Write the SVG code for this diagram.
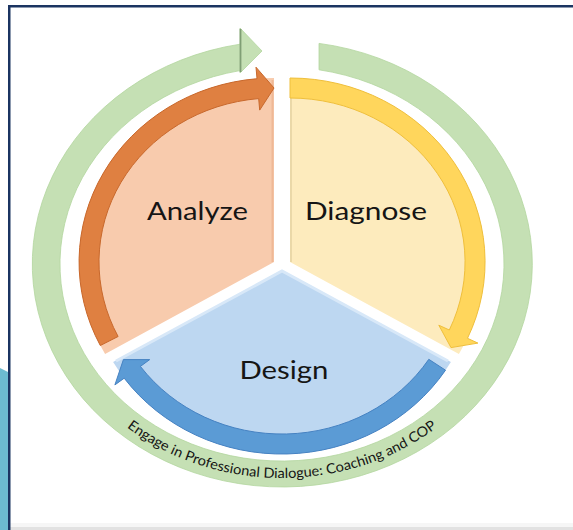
<svg xmlns="http://www.w3.org/2000/svg" width="573" height="530" viewBox="0 0 573 530">
<style>
.lbl{font-family:Lato,"Liberation Sans",sans-serif;font-size:25.5px;fill:#151515}
.ring{font-family:Lato,"Liberation Sans",sans-serif;font-size:14px;fill:#151515}
</style>
<defs>
<path id="txtArc" d="M42,264 A240,214 0 0 0 522,264"/>
</defs>
<rect x="0" y="0" width="573" height="530" fill="#ffffff"/>
<g id="frame">
<path d="M0,368 L8,372 L8,530 L0,530 Z" fill="#6cbbd0"/>
<rect x="10" y="523" width="563" height="4" fill="#f6f6f6"/>
<rect x="10" y="527" width="563" height="3" fill="#e2e2e2"/>
<rect x="8" y="5" width="565" height="2.5" fill="#1b3461"/>
<rect x="8" y="5" width="2.5" height="525" fill="#1b3461"/>
</g>
<g id="cycle">
<path d="M319,43.4 A250,223 0 1 1 240,44.2 L240,28 L262,51 L240,73 L240,70.6 A222,197 0 1 0 319,69.8 Z" fill="#c5e0b4" stroke="#b3d69e" stroke-width="0.8"/>
<line x1="240.5" y1="29" x2="240.5" y2="72" stroke="#6f8f66" stroke-width="1.8" opacity="0.8"/>
<text class="ring"><textPath href="#txtArc" startOffset="50%" text-anchor="middle" textLength="332" lengthAdjust="spacingAndGlyphs">Engage in Professional Dialogue: Coaching and COP</textPath></text>
</g>
<g id="analyze">
<path d="M274,262 L105.1,354 A195,184 0 0 1 274,78 Z" fill="#f8cbad"/>
<line x1="272.5" y1="80" x2="272.5" y2="262" stroke="#efb896" stroke-width="2"/>
<text class="lbl" x="197.5" y="220" text-anchor="middle" textLength="101" lengthAdjust="spacingAndGlyphs">Analyze</text>
</g>
<g id="diagnose">
<path d="M290,262 L290,78 A195,184 0 0 1 458.9,354 Z" fill="#fdebbd"/>
<line x1="291" y1="98" x2="291" y2="262" stroke="#ead8a8" stroke-width="2"/>
<text class="lbl" x="366" y="220" text-anchor="middle" textLength="122" lengthAdjust="spacingAndGlyphs">Diagnose</text>
</g>
<g id="design">
<path d="M282,270 L450.9,362 A195,184 0 0 1 113.1,362 Z" fill="#bdd7f1"/>
<path d="M116,361 L282,271 L448,361" fill="none" stroke="#d8e8f8" stroke-width="3"/>
<text class="lbl" x="284" y="379" text-anchor="middle" textLength="89" lengthAdjust="spacingAndGlyphs">Design</text>
</g>
<g id="connectors">
<path d="M100.3,345.5 A195,184 0 0 1 257,78.7 L256,67.2 L274,88 L259.7,110.1 L258.7,98.6 A175,164 0 0 0 118.1,336.5 Z" fill="#df8041" stroke="#c8682c" stroke-width="1"/>
<path d="M290,78 A195,184 0 0 1 467.5,338.3 L477.9,343.1 L451,347.6 L438.8,325.2 L449.3,330 A175,164 0 0 0 290,98 Z" fill="#ffd65c" stroke="#efbf3c" stroke-width="1"/>
<path d="M445.5,370.2 A195,184 0 0 1 124.2,378.2 L114.9,384.9 L123.4,359.6 L149.7,359.6 L140.4,366.4 A175,164 0 0 0 428.8,359.3 Z" fill="#5b9bd5" stroke="#4682c2" stroke-width="1"/>
</g>
</svg>
